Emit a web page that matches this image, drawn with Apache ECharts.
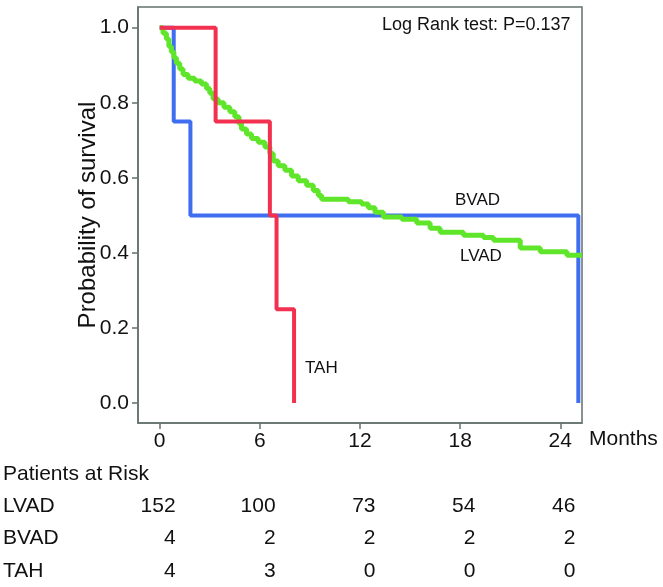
<!DOCTYPE html>
<html>
<head>
<meta charset="utf-8">
<script src="https://cdn.jsdelivr.net/npm/echarts@6/dist/echarts.min.js"></script>
<style>html,body{margin:0;padding:0;background:#fff}#c{width:663px;height:587px}</style>
</head>
<body>
<div id="c"></div>
<script>
// ---- data ----
var xTicks = [0, 6, 12, 18, 24];
var yTicks = [0, 0.2, 0.4, 0.6, 0.8, 1.0];
// Kaplan-Meier steps: [month, survival after step]
var lvadTimes = [0, 0.2, 0.4, 0.55, 0.7, 0.85, 1.0, 1.2, 1.4, 1.7, 2.1, 2.5, 2.8, 3.0, 3.2, 3.5, 3.85, 4.2, 4.5, 4.75, 4.9, 5.2, 5.5, 5.9, 6.3, 6.6, 6.8, 7.1, 7.5, 7.9, 8.3, 8.8, 9.2, 9.5, 9.7, 11.3, 12.1, 12.5, 12.9, 13.4, 14.5, 15.4, 16.2, 16.8, 18.2, 19.4, 20.0, 21.6, 22.8, 24.4, 25.3];
var lvadSurv  = [1.0, 0.985, 0.97, 0.95, 0.935, 0.92, 0.905, 0.89, 0.875, 0.865, 0.858, 0.85, 0.838, 0.825, 0.81, 0.8, 0.788, 0.776, 0.763, 0.745, 0.73, 0.717, 0.705, 0.695, 0.682, 0.665, 0.645, 0.632, 0.62, 0.605, 0.592, 0.58, 0.566, 0.553, 0.543, 0.536, 0.53, 0.52, 0.508, 0.496, 0.49, 0.48, 0.466, 0.455, 0.447, 0.441, 0.434, 0.413, 0.403, 0.394, 0.394];
var bvadTimes = [0, 0.84, 1.84, 25.08];
var bvadSurv  = [1.0, 0.75, 0.5, 0.0];
var tahTimes  = [0, 3.35, 6.6, 7.0, 8.05];
var tahSurv   = [1.0, 0.75, 0.5, 0.25, 0.0];
// patients at risk
var riskRows  = ['Patients at Risk', 'LVAD', 'BVAD', 'TAH'];
var riskLVAD  = [152, 100, 73, 54, 46];
var riskBVAD  = [4, 2, 2, 2, 2];
var riskTAH   = [4, 3, 0, 0, 0];

function pairs(t, s) { return t.map(function (v, i) { return [v, s[i]]; }); }
function riskData(row, arr) { return xTicks.map(function (t, i) { return [t, row, arr[i]]; }); }

var font = 'Liberation Sans, Arial, Helvetica, sans-serif';
var frame = '#63716f';
var ink = '#111111';
var chart = echarts.init(document.getElementById('c'), null, {renderer: 'canvas'});
var riskLabel = {
  show: true, position: 'inside', align: 'right', offset: [15, 0],
  formatter: function (p) { return p.value[2]; },
  fontFamily: font, fontSize: 21, color: ink
};
function riskSeries(row, arr) {
  return {type: 'scatter', xAxisIndex: 1, yAxisIndex: 1, symbolSize: 0,
          itemStyle: {opacity: 1}, data: riskData(row, arr), label: riskLabel, silent: true};
}
chart.setOption({
  animation: false,
  backgroundColor: '#ffffff',
  grid: [
    {left: 138, right: 81, top: 7, bottom: 164, show: true, borderColor: frame, borderWidth: 1.5, backgroundColor: '#fff'},
    {left: 138, right: 81, top: 458, bottom: 0, show: false}
  ],
  xAxis: [
    {gridIndex: 0, type: 'value', min: -1.3, max: 25.3,
     splitLine: {show: false},
     axisLine: {show: true, onZero: false, lineStyle: {color: frame, width: 1.5}},
     axisTick: {show: true, length: 6, customValues: xTicks, lineStyle: {color: frame, width: 1.5}},
     axisLabel: {show: true, customValues: xTicks, margin: 8, fontFamily: font, fontSize: 21, color: ink}},
    {gridIndex: 1, type: 'value', min: -1.3, max: 25.3, show: false}
  ],
  yAxis: [
    {gridIndex: 0, type: 'value', min: -0.053, max: 1.055,
     name: 'Probability of survival', nameLocation: 'middle', nameGap: 38, nameMoveOverlap: false,
     nameTextStyle: {fontFamily: font, fontSize: 24, color: ink},
     splitLine: {show: false},
     axisLine: {show: true, onZero: false, lineStyle: {color: frame, width: 1.5}},
     axisTick: {show: true, length: 6, customValues: yTicks, lineStyle: {color: frame, width: 1.5}},
     axisLabel: {show: true, customValues: yTicks, margin: 9, fontFamily: font, fontSize: 21, color: ink,
                 formatter: function (v) { return v.toFixed(1); }}},
    {gridIndex: 1, type: 'category', data: riskRows, inverse: true,
     axisLine: {show: false}, axisTick: {show: false}, splitLine: {show: false},
     axisLabel: {show: true, align: 'left', margin: 136, fontFamily: font, fontSize: 21, color: ink}}
  ],
  series: [
    {type: 'line', name: 'LVAD', step: 'end', data: pairs(lvadTimes, lvadSurv), showSymbol: false, symbol: 'none',
     lineStyle: {color: '#5fe62a', width: 5}, z: 3},
    {type: 'line', name: 'BVAD', step: 'end', data: pairs(bvadTimes, bvadSurv), showSymbol: false, symbol: 'none',
     lineStyle: {color: '#3f6ff0', width: 4}, z: 2},
    {type: 'line', name: 'TAH', step: 'end', data: pairs(tahTimes, tahSurv), showSymbol: false, symbol: 'none',
     lineStyle: {color: '#f2304f', width: 4}, z: 4},
    riskSeries('LVAD', riskLVAD),
    riskSeries('BVAD', riskBVAD),
    riskSeries('TAH', riskTAH)
  ],
  graphic: [
    {type: 'text', left: 382, top: 16, style: {text: 'Log Rank test: P=0.137', fontFamily: font, fontSize: 18, fill: ink}},
    {type: 'text', left: 455, top: 192, style: {text: 'BVAD', fontFamily: font, fontSize: 17, fill: ink}},
    {type: 'text', left: 460, top: 248, style: {text: 'LVAD', fontFamily: font, fontSize: 17, fill: ink}},
    {type: 'text', left: 305, top: 360, style: {text: 'TAH', fontFamily: font, fontSize: 17, fill: ink}},
    {type: 'text', left: 589, top: 429, style: {text: 'Months', fontFamily: font, fontSize: 21, fill: ink}}
  ]
});
</script>
</body>
</html>
